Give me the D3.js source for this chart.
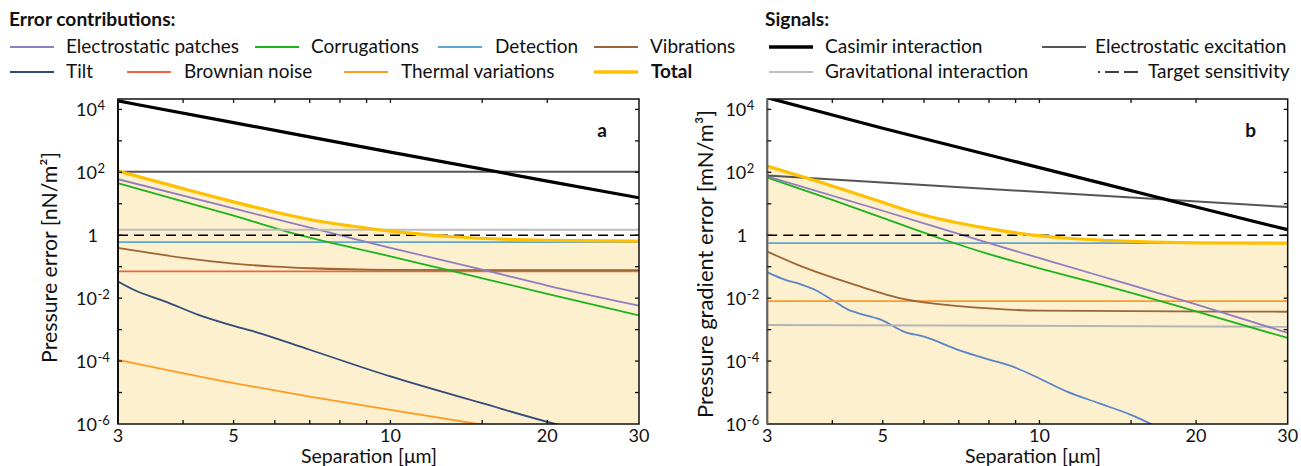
<!DOCTYPE html>
<html>
<head>
<meta charset="utf-8">
<script src="https://cdn.jsdelivr.net/npm/d3@7"></script>
<style>
  body { margin: 0; background: #fff; }
  svg { font-family: Lato, "Open Sans", sans-serif; }
</style>
</head>
<body>
<svg id="chart"></svg>
<script>
//Data: [separation in um, value]
const xTicks = [3, 4, 5, 6, 7, 8, 9, 10, 15, 20, 30];
const xTickLabels = [3, 5, 10, 20, 30];
const yExponents = [-6, -5, -4, -3, -2, -1, 0, 1, 2, 3, 4];
const yLabelExponents = [-6, -4, -2, 0, 2, 4];

//Panel a: pressure error [nN/m2]
const casimirA = [[3, 1.86e4], [5, 3.8e3], [10, 436], [20, 52.5], [30, 15.5]];
const excitationA = [[3, 105], [30, 105]];
const gravityA = [[3, 1.5], [30, 1.5]];
const targetA = [[3, 1], [30, 1]];
const patchesA = [[3, 60.3], [5, 7.08], [8, 1.0], [10, 0.398], [15.5, 0.0708], [20, 0.0251], [30, 0.00575]];
const corrugA = [[3, 44.7], [5, 4.17], [6.7, 1.0], [10, 0.214], [13, 0.0759], [20, 0.0138], [30, 0.00282]];
const detectA = [[3, 0.6], [30, 0.6]];
const vibrA = [[3, 0.398], [3.5, 0.263], [4, 0.191], [5, 0.126], [6, 0.1], [7, 0.0891], [10, 0.0794], [20, 0.0776], [30, 0.0776]];
const brownA = [[3, 0.0708], [30, 0.0708]];
const tiltA = [[3, 0.0339], [3.23, 0.0178], [3.69, 0.00794], [4.28, 0.00295], [5, 0.00132], [5.48, 8.7e-4], [7, 2.29e-4], [10, 3.24e-5], [15, 4.57e-6], [20, 1.17e-6], [21, 9.5e-7]];
const thermalA = [[3, 1.1e-4], [5, 2.0e-5], [7, 7.4e-6], [10, 2.8e-6], [15, 9.5e-7]];
const totalA = [[3, 110], [4, 30.2], [5, 11.5], [6, 5.5], [7, 3.16], [8.35, 2.0], [10, 1.35], [13, 0.91], [20, 0.69], [30, 0.65]];

//Panel b: pressure gradient error [mN/m3]
const casimirB = [[3, 2.34e4], [5, 2.5e3], [8, 355], [10, 141], [17, 15.5], [20, 7.9], [30, 1.5]];
const excitationB = [[3, 79], [30, 7.9]];
const gravityB = [[3, 1.4e-3], [30, 1.23e-3]];
const targetB = [[3, 1], [30, 1]];
const patchesB = [[3, 74], [5, 6.0], [8, 0.56], [13, 0.0525], [20, 6.3e-3], [30, 7.9e-4]];
const corrugB = [[3, 67.6], [4, 13.2], [5, 3.55], [6.5, 0.76], [8, 0.251], [10, 0.089], [13, 0.0282], [20, 3.8e-3], [30, 5.4e-4]];
const detectB = [[3, 0.56], [30, 0.56]];
const thermalB = [[3, 8.1e-3], [30, 8.1e-3]];
const vibrB = [[3, 0.302], [3.49, 0.102], [4.41, 0.0269], [5.5, 9.3e-3], [7, 5.6e-3], [8, 4.7e-3], [10, 4.0e-3], [30, 3.7e-3]];
const tiltB = [[3, 0.066], [3.24, 0.0389], [3.49, 0.0269], [3.71, 0.0182], [3.99, 8.9e-3], [4.29, 4.3e-3], [4.6, 2.95e-3], [4.97, 2.04e-3], [5.5, 8.5e-4], [6, 6.0e-4], [7, 2.24e-4], [8, 1.12e-4], [8.86, 6.8e-5], [10, 2.8e-5], [11.3, 1.07e-5], [13, 4.6e-6], [15, 1.95e-6], [16.5, 9.5e-7]];
const totalB = [[3, 158], [3.84, 45.7], [4.93, 12.0], [5.5, 6.6], [6.2, 3.8], [7, 2.45], [8, 1.62], [9.46, 1.07], [11, 0.83], [13.6, 0.68], [20, 0.575], [30, 0.56]];

const errorLegend = [
  ["Electrostatic patches", "#8f7dc2", 2], ["Corrugations", "#1db31d", 2], ["Detection", "#5ea6d2", 2], ["Vibrations", "#9c6535", 2],
  ["Tilt", "#2f4b78", 2], ["Brownian noise", "#ef643e", 2], ["Thermal variations", "#ff9a22", 2], ["Total", "#ffc000", 3.5]
];
const signalLegend = [
  ["Casimir interaction", "#000", 3.5], ["Electrostatic excitation", "#555", 2],
  ["Gravitational interaction", "#bdbdbd", 2], ["Target sensitivity", "#000", 1.5]
];

const W = 1301, H = 466;
const svg = d3.select("#chart").attr("width", W).attr("height", H);
const plotTop = 99, plotBottom = 424;

//Scale a group of texts to one common font size that gives the wanted total width
function fitSize(nodes, widths, base) {
  let measured = 0, wanted = 0;
  nodes.forEach((n, i) => { measured += n.getComputedTextLength(); wanted += widths[i]; });
  const size = base * wanted / measured;
  nodes.forEach(n => n.setAttribute("font-size", size));
}

function drawPanel(p) {
  const x = d3.scaleLog().domain([3, 30]).range([p.left, p.right]);
  const y = d3.scaleLog().domain([1e-6, Math.pow(10, 4.33)]).range([plotBottom, plotTop]);
  const g = svg.append("g");

  g.append("clipPath").attr("id", "clip" + p.id)
    .append("rect").attr("x", p.left).attr("y", plotTop)
    .attr("width", p.right - p.left).attr("height", plotBottom - plotTop);

  const plot = g.append("g").attr("clip-path", "url(#clip" + p.id + ")");

  //Fill under the total
  const area = d3.area()
    .x(d => x(d[0])).y0(plotBottom).y1(d => y(d[1]))
    .curve(d3.curveMonotoneX);
  plot.append("path").datum(p.total).attr("d", area).attr("fill", "#fdf0cf");

  const line = d3.line().x(d => x(d[0])).y(d => y(d[1])).curve(d3.curveMonotoneX);
  p.series.forEach(s => {
    plot.append("path").datum(s.data).attr("d", line)
      .attr("fill", "none").attr("stroke", s.color)
      .attr("stroke-width", s.width)
      .attr("stroke-dasharray", s.dash || null);
  });

  //Frame and inward ticks on all four sides
  g.append("rect").attr("x", p.left).attr("y", plotTop)
    .attr("width", p.right - p.left).attr("height", plotBottom - plotTop)
    .attr("fill", "none").attr("stroke", "#111").attr("stroke-width", 1.5);
  g.append("line").attr("x1", p.left).attr("x2", p.left).attr("y1", plotTop).attr("y2", plotBottom)
    .attr("stroke", p.leftAxis).attr("stroke-width", 2);

  const tk = 4;
  xTicks.slice(1, -1).forEach(t => {
    g.append("line").attr("x1", x(t)).attr("x2", x(t)).attr("y1", plotBottom).attr("y2", plotBottom - tk).attr("stroke", "#111").attr("stroke-width", 1.3);
    g.append("line").attr("x1", x(t)).attr("x2", x(t)).attr("y1", plotTop).attr("y2", plotTop + tk).attr("stroke", "#111").attr("stroke-width", 1.3);
  });
  yExponents.slice(1).forEach(e => {
    const yy = y(Math.pow(10, e));
    g.append("line").attr("x1", p.left).attr("x2", p.left + tk).attr("y1", yy).attr("y2", yy).attr("stroke", "#111").attr("stroke-width", 1.3);
    g.append("line").attr("x1", p.right).attr("x2", p.right - tk).attr("y1", yy).attr("y2", yy).attr("stroke", "#111").attr("stroke-width", 1.3);
  });

  //Tick labels
  xTickLabels.forEach(t => {
    g.append("text").attr("x", x(t)).attr("y", 442).attr("text-anchor", "middle")
      .attr("font-size", 18).attr("fill", "#111").text(t);
  });
  yLabelExponents.forEach(e => {
    const yy = y(Math.pow(10, e)) + 6.5;
    const bx = p.left - 21;
    if (e === 0) {
      g.append("text").attr("x", bx + 1).attr("y", yy).attr("text-anchor", "end")
        .attr("font-size", 18).attr("fill", "#111").text("1");
    } else {
      g.append("text").attr("x", bx).attr("y", yy).attr("text-anchor", "end")
        .attr("font-size", 18).attr("fill", "#111").text("10");
      g.append("text").attr("x", bx + 0.5).attr("y", yy - 5.5).attr("text-anchor", "start")
        .attr("font-size", 13).attr("fill", "#111").text(e < 0 ? "-" + (-e) : e);
    }
  });

  //Axis titles and panel letter
  const yt = g.append("text").attr("transform", "translate(" + p.yTitleX + "," + p.yTitleY + ") rotate(-90)")
    .attr("text-anchor", "middle").attr("font-size", 18).attr("fill", "#111").text(p.yTitle);
  fitSize([yt.node()], [p.yTitleW], 18);
  const xt = g.append("text").attr("x", p.xTitleX).attr("y", 462.5).attr("text-anchor", "middle")
    .attr("font-size", 18).attr("fill", "#111").text("Separation [μm]");
  fitSize([xt.node()], [136], 18);
  g.append("text").attr("x", p.right - 37).attr("y", 137).attr("text-anchor", "middle")
    .attr("font-size", 19).attr("font-weight", "bold").attr("fill", "#111").text(p.id);
}

const C = {};
errorLegend.forEach(d => C[d[0]] = d[1]);

drawPanel({
  id: "a", left: 118, right: 639, leftAxis: "#111",
  yTitleX: 57, yTitleY: 257.5, yTitleW: 211, xTitleX: 369,
  yTitle: "Pressure error [nN/m²]", total: totalA,
  series: [
    { data: thermalA, color: C["Thermal variations"], width: 1.8 },
    { data: tiltA, color: C["Tilt"], width: 1.8 },
    { data: brownA, color: C["Brownian noise"], width: 1.8 },
    { data: vibrA, color: C["Vibrations"], width: 1.8 },
    { data: detectA, color: C["Detection"], width: 1.8 },
    { data: corrugA, color: C["Corrugations"], width: 1.8 },
    { data: patchesA, color: C["Electrostatic patches"], width: 1.8 },
    { data: gravityA, color: "#bdbdbd", width: 2 },
    { data: targetA, color: "#000", width: 1.5, dash: "10,6" },
    { data: excitationA, color: "#555", width: 2 },
    { data: totalA, color: C["Total"], width: 3.2 },
    { data: casimirA, color: "#000", width: 3.2 }
  ]
});

drawPanel({
  id: "b", left: 767.3, right: 1287.7, leftAxis: "#666",
  yTitleX: 713, yTitleY: 264, yTitleW: 308, xTitleX: 1033,
  yTitle: "Pressure gradient error [mN/m³]", total: totalB,
  series: [
    { data: tiltB, color: "#5a86c8", width: 1.8 },
    { data: gravityB, color: "#b5b5b5", width: 2 },
    { data: thermalB, color: C["Thermal variations"], width: 1.8 },
    { data: vibrB, color: C["Vibrations"], width: 1.8 },
    { data: detectB, color: C["Detection"], width: 1.8 },
    { data: corrugB, color: C["Corrugations"], width: 1.8 },
    { data: patchesB, color: C["Electrostatic patches"], width: 1.8 },
    { data: targetB, color: "#000", width: 1.5, dash: "10,6" },
    { data: excitationB, color: "#555", width: 2 },
    { data: totalB, color: C["Total"], width: 3.2 },
    { data: casimirB, color: "#000", width: 3.2 }
  ]
});

//Legends
const leg = svg.append("g").attr("font-size", 15).attr("fill", "#111");
const heads = [
  leg.append("text").attr("x", 9).attr("y", 26).attr("font-weight", "bold").text("Error contributions:").node(),
  leg.append("text").attr("x", 765).attr("y", 26).attr("font-weight", "bold").text("Signals:").node()
];
fitSize(heads, [168, 63], 15);

const errTexts = [];
const errX = [10, 255, 438, 594, 10, 127, 344, 594];
const errTextX = [66, 311, 495, 650, 66, 184, 401, 651];
const errW = [174, 108, 81, 84, 26, 128, 156, 43];
errorLegend.forEach((d, i) => {
  const yy = i < 4 ? 47 : 72;
  leg.append("line").attr("x1", errX[i]).attr("x2", errX[i] + 44).attr("y1", yy).attr("y2", yy)
    .attr("stroke", d[1]).attr("stroke-width", d[2]);
  errTexts.push(leg.append("text").attr("x", errTextX[i]).attr("y", yy + 6)
    .attr("font-weight", d[0] === "Total" ? "bold" : null).text(d[0]).node());
});
fitSize(errTexts, errW, 15);

const sigTexts = [];
const sigX = [769, 1042, 769, 1098];
const sigTextX = [825, 1095, 825, 1148];
const sigW = [158, 192, 205, 139];
signalLegend.forEach((d, i) => {
  const yy = i < 2 ? 47 : 72;
  const x2 = i === 3 ? 1140 : sigX[i] + 44;
  leg.append("line").attr("x1", sigX[i]).attr("x2", x2).attr("y1", yy).attr("y2", yy)
    .attr("stroke", d[1]).attr("stroke-width", d[2])
    .attr("stroke-dasharray", i === 3 ? "2,5,14,5,14" : null);
  sigTexts.push(leg.append("text").attr("x", sigTextX[i]).attr("y", yy + 6).text(d[0]).node());
});
fitSize(sigTexts, sigW, 15);
</script>
</body>
</html>
